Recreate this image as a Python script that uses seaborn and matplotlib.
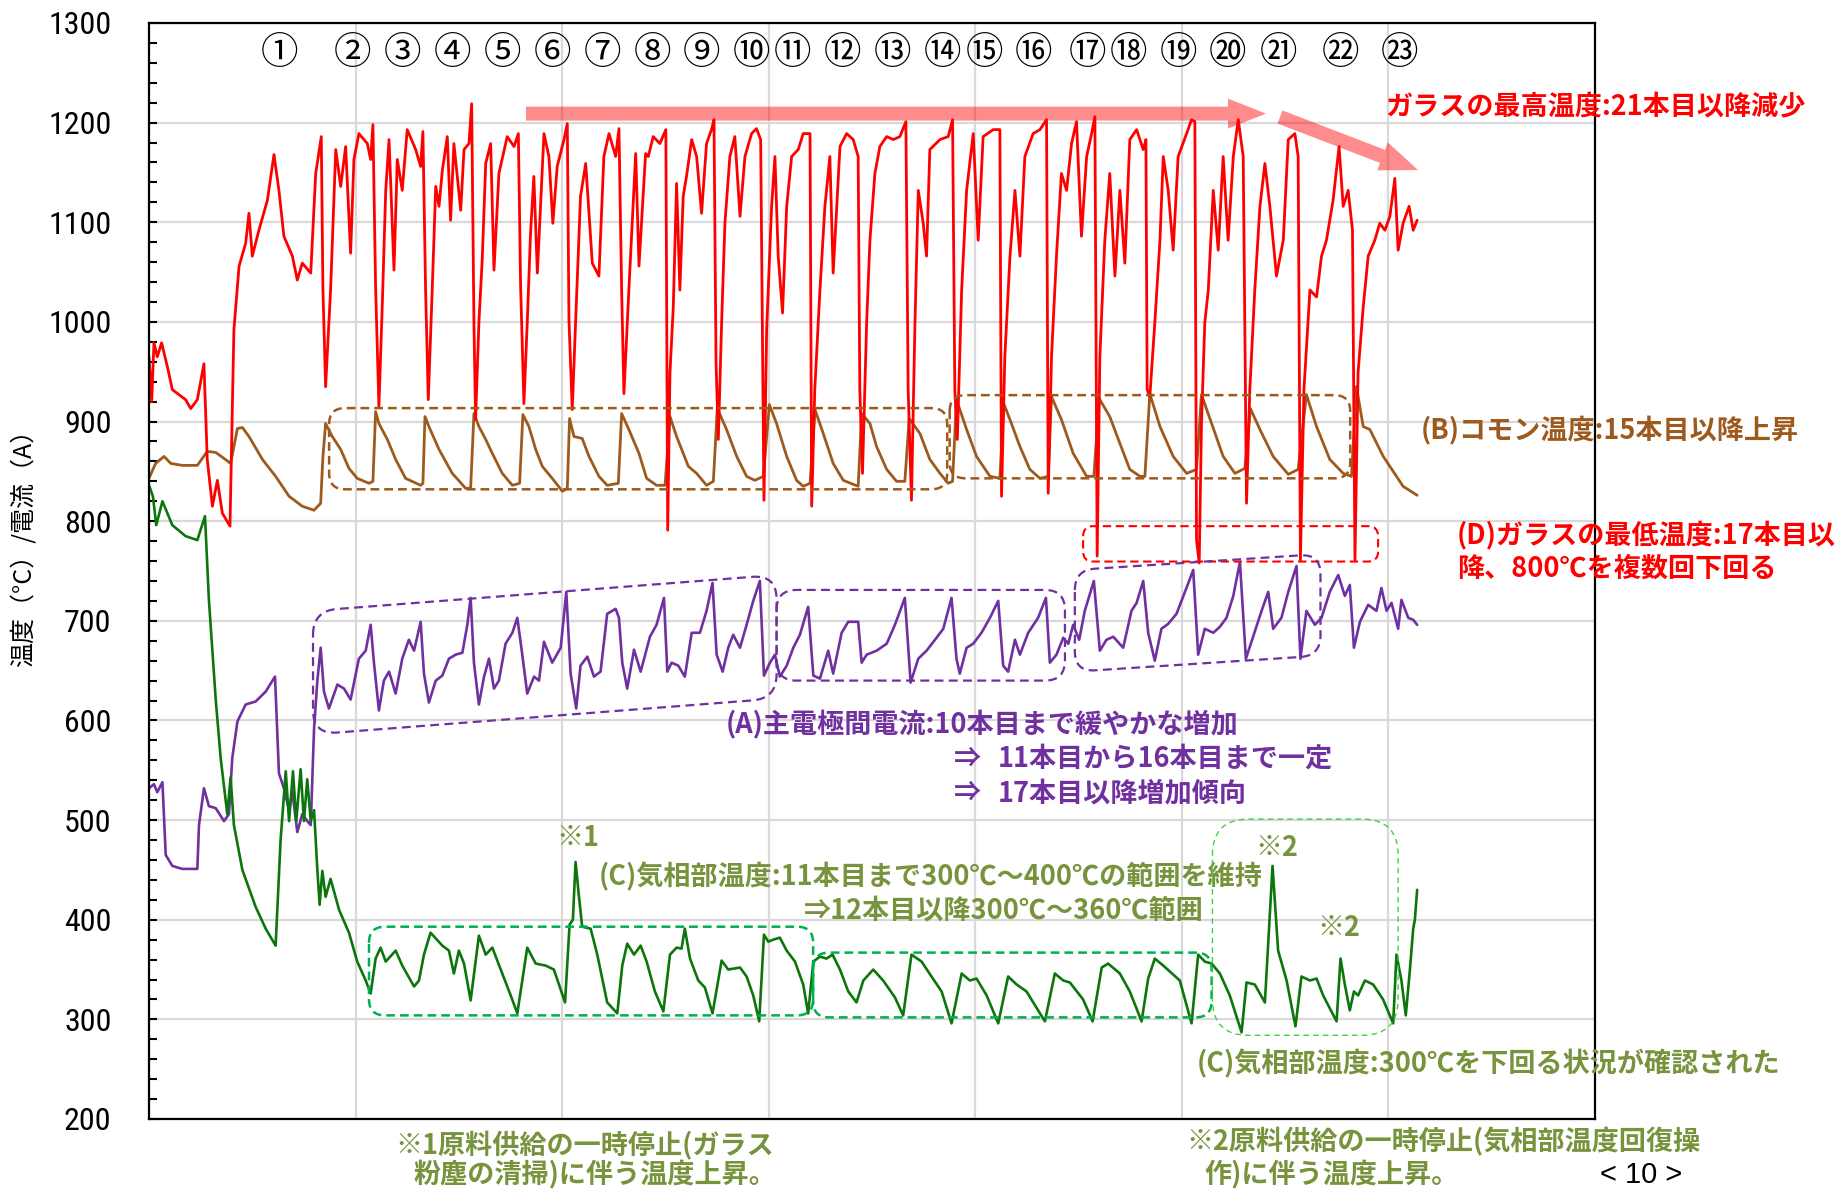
import numpy as np
import pandas as pd
import matplotlib
matplotlib.use("Agg")
import matplotlib.pyplot as plt
import matplotlib.patches as mpatches
from matplotlib import font_manager
from matplotlib.path import Path
from matplotlib.transforms import IdentityTransform
import seaborn as sns

# ---------------------------------------------------------------- data
# time axis runs 0..7; each list holds (time, value) vertices of a trace
glass_points = [
    (0.000, 965), (0.013, 920), (0.024, 979), (0.040, 965), (0.061, 979), (0.089, 955), (0.113, 932),
    (0.145, 927), (0.177, 922), (0.202, 913), (0.234, 922), (0.266, 958), (0.282, 862), (0.307, 815),
    (0.331, 841), (0.355, 808), (0.392, 795), (0.411, 992), (0.436, 1056), (0.468, 1079), (0.484, 1109),
    (0.500, 1066), (0.532, 1092), (0.573, 1122), (0.605, 1168), (0.629, 1132), (0.653, 1086), (0.694, 1066),
    (0.718, 1042), (0.742, 1059), (0.783, 1049), (0.807, 1149), (0.834, 1186), (0.842, 1032), (0.855, 935),
    (0.879, 1032), (0.904, 1173), (0.928, 1136), (0.952, 1176), (0.976, 1069), (0.992, 1163), (1.016, 1189),
    (1.057, 1179), (1.073, 1163), (1.084, 1198), (1.097, 1035), (1.113, 915), (1.129, 1015), (1.146, 1132),
    (1.162, 1183), (1.186, 1052), (1.202, 1163), (1.226, 1132), (1.250, 1193), (1.291, 1173), (1.315, 1156),
    (1.326, 1191), (1.339, 1032), (1.352, 922), (1.371, 1032), (1.388, 1136), (1.404, 1116), (1.420, 1152),
    (1.444, 1186), (1.460, 1102), (1.476, 1179), (1.509, 1112), (1.525, 1173), (1.549, 1179), (1.562, 1219),
    (1.573, 999), (1.581, 902), (1.597, 999), (1.613, 1062), (1.630, 1159), (1.654, 1179), (1.670, 1052),
    (1.694, 1149), (1.734, 1186), (1.767, 1176), (1.788, 1189), (1.799, 1035), (1.815, 918), (1.831, 999),
    (1.847, 1089), (1.863, 1146), (1.880, 1049), (1.912, 1189), (1.936, 1166), (1.955, 1099), (1.976, 1156),
    (2.009, 1183), (2.025, 1199), (2.033, 1002), (2.049, 912), (2.065, 999), (2.089, 1126), (2.114, 1159),
    (2.146, 1059), (2.178, 1046), (2.202, 1166), (2.227, 1189), (2.259, 1166), (2.275, 1194), (2.288, 1032),
    (2.299, 928), (2.323, 1032), (2.356, 1169), (2.372, 1056), (2.404, 1169), (2.417, 1166), (2.441, 1186),
    (2.473, 1179), (2.502, 1193), (2.511, 791), (2.522, 949), (2.538, 1015), (2.554, 1139), (2.570, 1032),
    (2.586, 1126), (2.602, 1146), (2.627, 1183), (2.651, 1166), (2.675, 1109), (2.699, 1179), (2.723, 1193),
    (2.735, 1203), (2.745, 959), (2.756, 882), (2.772, 999), (2.788, 1099), (2.812, 1166), (2.836, 1186),
    (2.861, 1106), (2.885, 1166), (2.917, 1189), (2.941, 1194), (2.961, 1183), (2.977, 821), (2.990, 992),
    (3.014, 1116), (3.030, 1166), (3.046, 1066), (3.067, 1009), (3.087, 1116), (3.111, 1166), (3.143, 1173),
    (3.167, 1189), (3.200, 1189), (3.208, 815), (3.223, 932), (3.248, 1032), (3.272, 1116), (3.296, 1166),
    (3.312, 1049), (3.345, 1176), (3.377, 1189), (3.409, 1183), (3.433, 1166), (3.441, 932), (3.454, 848),
    (3.474, 999), (3.490, 1082), (3.514, 1149), (3.538, 1176), (3.571, 1186), (3.603, 1183), (3.635, 1186),
    (3.664, 1201), (3.675, 932), (3.691, 821), (3.708, 999), (3.724, 1132), (3.748, 1099), (3.764, 1066),
    (3.780, 1173), (3.829, 1183), (3.869, 1186), (3.890, 1203), (3.901, 932), (3.913, 882), (3.934, 1032),
    (3.958, 1132), (3.990, 1189), (4.014, 1082), (4.038, 1186), (4.087, 1193), (4.119, 1193), (4.127, 825),
    (4.143, 965), (4.168, 1066), (4.192, 1132), (4.216, 1066), (4.240, 1166), (4.280, 1189), (4.313, 1193),
    (4.345, 1203), (4.353, 828), (4.369, 965), (4.393, 1066), (4.417, 1149), (4.442, 1132), (4.466, 1179),
    (4.490, 1201), (4.514, 1086), (4.539, 1166), (4.563, 1189), (4.579, 1206), (4.590, 765), (4.603, 965),
    (4.627, 1082), (4.651, 1149), (4.676, 1046), (4.700, 1132), (4.724, 1059), (4.748, 1183), (4.781, 1193),
    (4.813, 1173), (4.826, 1183), (4.832, 932), (4.845, 925), (4.869, 999), (4.894, 1082), (4.910, 1166),
    (4.934, 1132), (4.958, 1072), (4.982, 1166), (5.023, 1189), (5.047, 1203), (5.063, 1201), (5.071, 781),
    (5.084, 758), (5.095, 898), (5.111, 999), (5.128, 1032), (5.152, 1132), (5.176, 1072), (5.200, 1166),
    (5.224, 1082), (5.249, 1166), (5.273, 1203), (5.297, 1166), (5.313, 818), (5.329, 932), (5.353, 1032),
    (5.378, 1116), (5.402, 1159), (5.426, 1116), (5.458, 1046), (5.491, 1082), (5.515, 1183), (5.547, 1189),
    (5.563, 1166), (5.574, 761), (5.591, 932), (5.620, 1032), (5.652, 1025), (5.676, 1066), (5.700, 1082),
    (5.732, 1122), (5.761, 1176), (5.781, 1116), (5.805, 1132), (5.826, 1092), (5.838, 761), (5.853, 949),
    (5.878, 1015), (5.902, 1066), (5.934, 1082), (5.958, 1099), (5.983, 1092), (6.007, 1106), (6.031, 1144),
    (6.047, 1072), (6.071, 1099), (6.100, 1116), (6.120, 1092), (6.139, 1102),
]

common_points = [
    (0.000, 843), (0.032, 858), (0.073, 865), (0.105, 858), (0.161, 856), (0.234, 856), (0.282, 870),
    (0.323, 869), (0.363, 863), (0.395, 858), (0.428, 893), (0.452, 894), (0.484, 885), (0.549, 862),
    (0.613, 845), (0.678, 825), (0.742, 815), (0.799, 811), (0.831, 818), (0.842, 865), (0.855, 898),
    (0.887, 885), (0.928, 872), (0.968, 853), (1.008, 843), (1.065, 838), (1.084, 840), (1.097, 910),
    (1.113, 898), (1.154, 882), (1.194, 862), (1.242, 843), (1.315, 836), (1.326, 838), (1.336, 905),
    (1.355, 895), (1.404, 872), (1.468, 848), (1.533, 833), (1.557, 833), (1.573, 908), (1.597, 895),
    (1.630, 882), (1.662, 868), (1.710, 848), (1.759, 836), (1.794, 838), (1.810, 907), (1.839, 895),
    (1.872, 872), (1.904, 855), (1.952, 843), (2.001, 830), (2.025, 833), (2.036, 903), (2.057, 885),
    (2.097, 883), (2.130, 865), (2.178, 845), (2.218, 836), (2.272, 838), (2.288, 908), (2.323, 892),
    (2.372, 868), (2.409, 843), (2.457, 836), (2.498, 836), (2.522, 905), (2.554, 885), (2.611, 855),
    (2.651, 848), (2.699, 836), (2.732, 840), (2.751, 913), (2.796, 892), (2.845, 865), (2.893, 845),
    (2.933, 841), (2.974, 845), (3.003, 917), (3.038, 898), (3.087, 865), (3.135, 841), (3.167, 835),
    (3.200, 838), (3.224, 912), (3.264, 888), (3.312, 858), (3.361, 841), (3.433, 835), (3.450, 908),
    (3.490, 898), (3.522, 875), (3.571, 852), (3.619, 840), (3.659, 840), (3.680, 903), (3.732, 888),
    (3.780, 862), (3.829, 848), (3.869, 838), (3.890, 840), (3.909, 922), (3.958, 892), (4.006, 865),
    (4.071, 845), (4.119, 843), (4.138, 918), (4.175, 898), (4.216, 875), (4.264, 852), (4.313, 843),
    (4.353, 845), (4.369, 925), (4.417, 902), (4.474, 868), (4.539, 845), (4.574, 845), (4.600, 923),
    (4.651, 905), (4.700, 878), (4.748, 852), (4.797, 845), (4.821, 845), (4.845, 928), (4.894, 895),
    (4.958, 865), (5.023, 848), (5.071, 852), (5.095, 927), (5.144, 898), (5.200, 865), (5.257, 848),
    (5.305, 853), (5.332, 913), (5.378, 892), (5.442, 865), (5.515, 847), (5.563, 852), (5.603, 927),
    (5.652, 895), (5.716, 862), (5.781, 848), (5.821, 845), (5.845, 935), (5.878, 895), (5.910, 892),
    (5.975, 865), (6.071, 835), (6.139, 826),
]

current_points = [
    (0.000, 532), (0.024, 536), (0.040, 528), (0.065, 538), (0.081, 465), (0.113, 454), (0.161, 451),
    (0.234, 451), (0.242, 495), (0.266, 532), (0.290, 514), (0.323, 512), (0.363, 499), (0.387, 506),
    (0.403, 562), (0.428, 599), (0.468, 616), (0.516, 619), (0.565, 629), (0.610, 644), (0.629, 547),
    (0.653, 532), (0.678, 510), (0.694, 528), (0.718, 488), (0.742, 506), (0.766, 499), (0.783, 495),
    (0.799, 592), (0.815, 640), (0.831, 673), (0.847, 629), (0.871, 612), (0.912, 636), (0.944, 632),
    (0.976, 621), (1.016, 662), (1.049, 670), (1.073, 696), (1.089, 658), (1.113, 610), (1.137, 640),
    (1.162, 649), (1.194, 627), (1.226, 662), (1.258, 681), (1.283, 670), (1.315, 699), (1.331, 647),
    (1.355, 618), (1.388, 640), (1.420, 645), (1.452, 662), (1.484, 666), (1.517, 668), (1.541, 696),
    (1.557, 723), (1.573, 658), (1.597, 616), (1.622, 644), (1.646, 662), (1.670, 632), (1.694, 640),
    (1.726, 677), (1.759, 688), (1.783, 703), (1.807, 666), (1.831, 627), (1.864, 644), (1.888, 640),
    (1.912, 679), (1.952, 658), (1.993, 673), (2.020, 729), (2.041, 647), (2.068, 612), (2.089, 655),
    (2.122, 664), (2.154, 644), (2.186, 649), (2.218, 707), (2.259, 712), (2.275, 703), (2.291, 658),
    (2.315, 632), (2.348, 671), (2.380, 649), (2.425, 684), (2.457, 696), (2.493, 723), (2.509, 649),
    (2.530, 658), (2.562, 655), (2.594, 644), (2.627, 688), (2.667, 688), (2.699, 710), (2.728, 738),
    (2.748, 666), (2.777, 649), (2.804, 673), (2.828, 686), (2.861, 673), (2.893, 696), (2.925, 720),
    (2.957, 740), (2.977, 645), (3.006, 658), (3.030, 666), (3.054, 644), (3.087, 655), (3.119, 673),
    (3.151, 686), (3.191, 714), (3.216, 645), (3.248, 642), (3.288, 670), (3.312, 647), (3.353, 688),
    (3.385, 699), (3.433, 699), (3.450, 658), (3.474, 666), (3.522, 670), (3.571, 677), (3.611, 696),
    (3.659, 723), (3.687, 638), (3.724, 662), (3.764, 670), (3.805, 681), (3.845, 692), (3.885, 723),
    (3.909, 662), (3.925, 647), (3.958, 673), (3.990, 677), (4.030, 688), (4.071, 703), (4.111, 720),
    (4.135, 655), (4.159, 649), (4.192, 681), (4.216, 666), (4.256, 688), (4.304, 703), (4.342, 723),
    (4.361, 658), (4.393, 666), (4.426, 683), (4.450, 677), (4.474, 696), (4.503, 681), (4.530, 710),
    (4.574, 740), (4.603, 670), (4.635, 681), (4.668, 684), (4.716, 673), (4.756, 710), (4.781, 718),
    (4.813, 740), (4.837, 688), (4.869, 660), (4.901, 692), (4.934, 697), (4.974, 707), (5.015, 729),
    (5.055, 751), (5.079, 666), (5.111, 692), (5.152, 688), (5.184, 694), (5.216, 703), (5.249, 725),
    (5.281, 759), (5.310, 662), (5.345, 684), (5.386, 710), (5.418, 729), (5.442, 692), (5.482, 703),
    (5.515, 729), (5.555, 755), (5.574, 662), (5.603, 710), (5.644, 696), (5.676, 703), (5.716, 729),
    (5.757, 746), (5.789, 725), (5.813, 736), (5.833, 673), (5.862, 699), (5.902, 716), (5.942, 710),
    (5.966, 733), (5.991, 710), (6.015, 718), (6.047, 692), (6.063, 721), (6.096, 703), (6.120, 701),
    (6.139, 696),
]

gas_points = [
    (0.000, 836), (0.019, 825), (0.035, 796), (0.065, 820), (0.113, 796), (0.177, 785), (0.234, 781),
    (0.271, 805), (0.290, 721), (0.323, 621), (0.347, 562), (0.379, 506), (0.395, 543), (0.411, 495),
    (0.452, 450), (0.516, 413), (0.565, 391), (0.613, 374), (0.637, 480), (0.662, 549), (0.678, 499),
    (0.697, 549), (0.713, 499), (0.734, 551), (0.750, 499), (0.766, 541), (0.783, 499), (0.799, 510),
    (0.815, 450), (0.826, 415), (0.839, 449), (0.855, 423), (0.879, 441), (0.920, 410), (0.968, 387),
    (1.008, 358), (1.049, 339), (1.073, 326), (1.097, 361), (1.121, 372), (1.146, 358), (1.194, 369),
    (1.226, 354), (1.283, 333), (1.307, 339), (1.331, 365), (1.363, 387), (1.420, 374), (1.452, 369),
    (1.476, 346), (1.500, 369), (1.525, 356), (1.557, 319), (1.597, 384), (1.630, 365), (1.662, 372),
    (1.710, 346), (1.751, 324), (1.783, 306), (1.831, 372), (1.872, 356), (1.920, 354), (1.960, 350),
    (2.014, 317), (2.036, 395), (2.052, 400), (2.065, 458), (2.081, 424), (2.097, 393), (2.138, 391),
    (2.170, 365), (2.218, 317), (2.267, 306), (2.291, 354), (2.315, 376), (2.348, 365), (2.380, 374),
    (2.409, 358), (2.449, 328), (2.490, 308), (2.522, 365), (2.554, 372), (2.578, 371), (2.594, 391),
    (2.619, 361), (2.659, 339), (2.691, 332), (2.728, 306), (2.772, 359), (2.804, 350), (2.861, 352),
    (2.893, 343), (2.925, 324), (2.954, 298), (2.977, 385), (2.998, 378), (3.022, 380), (3.054, 382),
    (3.087, 369), (3.127, 358), (3.167, 335), (3.191, 306), (3.216, 358), (3.248, 363), (3.280, 361),
    (3.309, 365), (3.345, 350), (3.385, 328), (3.425, 317), (3.458, 339), (3.506, 350), (3.554, 339),
    (3.611, 322), (3.651, 304), (3.691, 365), (3.740, 358), (3.788, 343), (3.837, 328), (3.885, 296),
    (3.934, 346), (3.974, 339), (4.006, 341), (4.055, 324), (4.111, 296), (4.159, 343), (4.200, 335),
    (4.248, 328), (4.337, 298), (4.385, 346), (4.426, 339), (4.458, 337), (4.522, 320), (4.568, 298),
    (4.612, 352), (4.643, 356), (4.700, 346), (4.748, 328), (4.805, 298), (4.837, 341), (4.869, 361),
    (4.910, 354), (4.990, 339), (5.047, 296), (5.079, 365), (5.111, 358), (5.144, 356), (5.184, 346),
    (5.232, 324), (5.289, 287), (5.313, 337), (5.353, 335), (5.402, 317), (5.439, 454), (5.466, 369),
    (5.507, 339), (5.550, 293), (5.579, 343), (5.620, 339), (5.652, 341), (5.684, 324), (5.749, 298),
    (5.768, 361), (5.789, 335), (5.813, 309), (5.833, 328), (5.853, 324), (5.886, 339), (5.926, 335),
    (5.974, 320), (6.023, 296), (6.039, 365), (6.063, 339), (6.084, 304), (6.104, 350), (6.120, 391),
    (6.128, 400), (6.139, 430),
]

run_labels = ["①", "②", "③", "④", "⑤", "⑥", "⑦", "⑧", "⑨", "⑩", "⑪", "⑫",
              "⑬", "⑭", "⑮", "⑯", "⑰", "⑱", "⑲", "⑳", "㉑", "㉒", "㉓"]
run_pos = [0.634, 0.983, 1.225, 1.467, 1.709, 1.951, 2.193, 2.435, 2.677, 2.919, 3.117, 3.359,
           3.601, 3.843, 4.046, 4.284, 4.543, 4.741, 4.984, 5.223, 5.467, 5.770, 6.055]

y_ticks = [200, 300, 400, 500, 600, 700, 800, 900, 1000, 1100, 1200, 1300]

# ---------------------------------------------------------------- style
sns.set_theme(style="white")
plt.rcParams["font.family"] = ["Noto Sans CJK JP", "DejaVu Sans"]
plt.rcParams["axes.unicode_minus"] = False

# a narrow face for the axis numbers, when one is installed
_installed = font_manager.fontManager.ttflist
_narrow = None
for want in ["Liberation Sans Narrow", "Roboto Condensed", "Arial Narrow", "Open Sans Condensed",
             "Noto Sans Condensed", "DejaVu Sans Condensed"]:
    hits = [f for f in _installed if f.name == want and f.style == "normal" and f.weight in (400, "normal", "regular")]
    if hits:
        _narrow = font_manager.FontProperties(fname=hits[0].fname, size=23)
        break
if _narrow is None:
    hits = [f for f in _installed if f.stretch in ("condensed", "semi-condensed")
            and f.style == "normal" and f.weight in (400, "normal", "regular")
            and "Sans" in f.name and "Mono" not in f.name]
    if hits:
        _narrow = font_manager.FontProperties(fname=hits[0].fname, size=23)
if _narrow is None:
    _narrow = font_manager.FontProperties(family=["Liberation Sans", "DejaVu Sans"], size=21)

W, H = 1847, 1190
fig = plt.figure(figsize=(W / 100, H / 100), dpi=100)
ax = fig.add_axes([149 / W, 1 - 1119 / H, (1595 - 149) / W, (1119 - 23) / H])

C_RED = "#ff0000"
C_BROWN = "#9e5a1c"
C_PURPLE = "#7030a0"
C_GREEN = "#0c760c"
C_OLIVE = "#77933c"
C_BOXGREEN = "#00b050"


def frame(points, name):
    t, v = zip(*points)
    return pd.DataFrame({"t": t, "value": v, "series": name})


series = [
    (frame(common_points, "コモン温度"), C_BROWN, 2.0),
    (frame(glass_points, "ガラス温度"), C_RED, 2.0),
    (frame(current_points, "主電極間電流"), C_PURPLE, 1.9),
    (frame(gas_points, "気相部温度"), C_GREEN, 1.9),
]
for df, col, lw in series:
    sns.lineplot(data=df, x="t", y="value", color=col, linewidth=lw,
                 estimator=None, sort=False, legend=False, ax=ax)

ax.set_xlim(0, 7)
ax.set_ylim(200, 1300)
ax.set_xlabel("")
ax.set_ylabel("")
ax.set_xticks([1, 2, 3, 4, 5, 6])
ax.set_xticklabels([])
ax.set_yticks(y_ticks)
ax.set_yticklabels([str(v) for v in y_ticks], fontproperties=_narrow)
ax.set_yticks(np.arange(200, 1301, 20), minor=True)
ax.tick_params(axis="x", which="both", length=0)
ax.tick_params(axis="y", which="both", direction="in", length=6, width=1.5,
               left=True, right=False, pad=27, colors="black")
ax.grid(True, which="major", color="#d9d9d9", linewidth=1.6)
ax.set_axisbelow(True)
for sp in ax.spines.values():
    sp.set_visible(True)
    sp.set_color("black")
    sp.set_linewidth(1.6)

# run numbers across the top
for lab, x in zip(run_labels, run_pos):
    ax.text(x, 1269, lab, ha="center", va="center", fontsize=27, color="black")

fig.text(24 / W, 1 - 542 / H, "温度（°C）/電流（A）", rotation=90, ha="center", va="center",
         fontsize=18, color="black")


# ---------------------------------------------------------------- helpers
def rounded_box(corners, radius, color, lw, dashes, zorder=5):
    pts = ax.transData.transform(np.asarray(corners, dtype=float))
    verts, codes = [], []
    n = len(pts)
    for i in range(n):
        p, prv, nxt = pts[i], pts[i - 1], pts[(i + 1) % n]
        a = p + radius * (prv - p) / np.linalg.norm(prv - p)
        b = p + radius * (nxt - p) / np.linalg.norm(nxt - p)
        verts.append(a)
        codes.append(Path.MOVETO if i == 0 else Path.LINETO)
        verts += [p, b]
        codes += [Path.CURVE3, Path.CURVE3]
    verts.append(verts[0])
    codes.append(Path.CLOSEPOLY)
    patch = mpatches.PathPatch(Path(verts, codes), transform=IdentityTransform(), fill=False,
                               edgecolor=color, linewidth=lw, linestyle=(0, dashes), zorder=zorder)
    fig.add_artist(patch)


def rect(x0, x1, y0, y1):
    return [(x0, y1), (x1, y1), (x1, y0), (x0, y0)]


def slanted(x0, x1, top0, top1, bot0, bot1):
    return [(x0, top0), (x1, top1), (x1, bot1), (x0, bot0)]


def pixel_arrow(x0, y0, x1, y1):
    arr = mpatches.FancyArrow(x0, H - y0, x1 - x0, -(y1 - y0), width=14, head_width=30,
                              head_length=38, length_includes_head=True,
                              transform=IdentityTransform(), color=C_RED, alpha=0.45, lw=0,
                              zorder=6)
    fig.add_artist(arr)


def note(px, py, s, color, size=19.5, weight="bold", **kw):
    fig.text(px / W, 1 - py / H, s, color=color, fontsize=size, fontweight=weight,
             ha="left", va="center", **kw)


# ---------------------------------------------------------------- boxes
rounded_box(rect(0.872, 3.864, 832, 913.5), 16, C_BROWN, 1.8, (3.5, 2.0))
rounded_box(rect(3.876, 5.815, 843, 926.5), 16, C_BROWN, 1.8, (3.5, 2.0))
rounded_box(rect(4.522, 5.950, 759.5, 795), 10, C_RED, 1.5, (4.0, 2.2))
rounded_box(slanted(0.794, 3.038, 710, 746, 586, 622), 24, C_PURPLE, 1.6, (4.0, 2.4))
rounded_box(rect(3.038, 4.434, 640, 731), 20, C_PURPLE, 1.6, (4.0, 2.4))
rounded_box(slanted(4.482, 5.671, 751, 767, 649, 665), 20, C_PURPLE, 1.6, (4.0, 2.4))
rounded_box(rect(1.065, 3.215, 304, 393), 16, C_BOXGREEN, 1.8, (3.5, 2.0))
rounded_box(rect(3.215, 5.144, 302, 367), 16, C_BOXGREEN, 1.8, (3.5, 2.0))
rounded_box(rect(5.148, 6.047, 284, 501), 36, "#3fd23f", 1.0, (4.0, 3.0))

# ---------------------------------------------------------------- trend arrows
pixel_arrow(526, 113.6, 1266, 113.6)
pixel_arrow(1280, 117, 1418, 170)

# ---------------------------------------------------------------- notes
note(1385, 107, "ガラスの最高温度:21本目以降減少", C_RED)
note(1421, 431, "(B)コモン温度:15本目以降上昇", C_BROWN)
note(1457, 536, "(D)ガラスの最低温度:17本目以", C_RED)
note(1457, 569, "降、800℃を複数回下回る", C_RED)

note(726, 725, "(A)主電極間電流:10本目まで緩やかな増加", C_PURPLE)
note(954, 759, "⇒", C_PURPLE)
note(998, 759, "11本目から16本目まで一定", C_PURPLE)
note(954, 793, "⇒", C_PURPLE)
note(998, 793, "17本目以降増加傾向", C_PURPLE)

note(599, 876.5, "(C)気相部温度:11本目まで300℃～400℃の範囲を維持", C_OLIVE)
note(804, 911, "⇒12本目以降300℃～360℃範囲", C_OLIVE)
note(556, 838, "※1", C_OLIVE)
note(1255, 848, "※2", C_OLIVE)
note(1317, 927.5, "※2", C_OLIVE)
note(1197, 1064, "(C)気相部温度:300℃を下回る状況が確認された", C_OLIVE)

note(395, 1146, "※1原料供給の一時停止(ガラス", C_OLIVE)
note(413, 1175, "粉塵の清掃)に伴う温度上昇。", C_OLIVE)
note(1186, 1142, "※2原料供給の一時停止(気相部温度回復操", C_OLIVE)
note(1204, 1174, "作)に伴う温度上昇。", C_OLIVE)

fig.text(1600 / W, 1 - 1175 / H, "< 10 >", fontsize=21, color="black", ha="left", va="center",
         family=["Liberation Sans", "DejaVu Sans"])

fig.savefig("out.png", dpi=100)
